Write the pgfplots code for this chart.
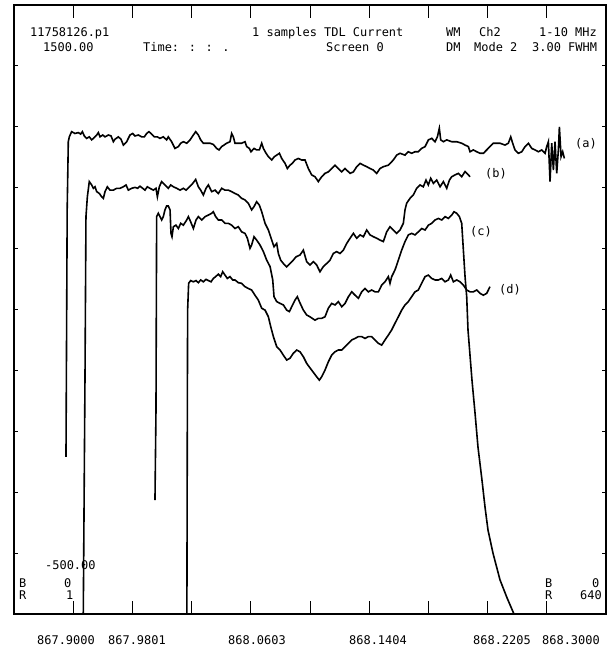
\documentclass[border=0pt]{standalone}
\usepackage{fontspec}
\setmainfont{DejaVu Sans Mono}
\usepackage{pgfplots}
\pgfplotsset{compat=1.18}

% four scans, x = channel (0..640), y = signal
\pgfplotstableread{
ch val
56.2 16
57.5 830
58.7 1051
59.8 1067
62.3 1084
65.9 1078
69.5 1081
72.1 1076
73.9 1084
76.0 1070
78.6 1062
81.4 1067
84.0 1057
86.8 1065
89.4 1073
91.2 1081
93.0 1067
95.9 1073
98.4 1067
102.0 1073
104.9 1070
107.4 1051
109.2 1059
112.8 1067
115.7 1059
118.2 1040
121.8 1051
125.4 1073
128.3 1078
130.8 1070
134.4 1073
138.0 1067
140.9 1067
143.4 1078
145.9 1084
148.8 1076
151.7 1067
154.9 1067
157.8 1062
161.4 1067
165.0 1057
166.8 1067
170.4 1051
174.0 1029
177.7 1035
180.2 1046
183.1 1051
186.7 1046
190.3 1057
193.9 1073
196.4 1084
199.3 1073
201.8 1057
204.7 1046
208.3 1046
211.9 1046
215.5 1042
219.1 1029
221.6 1024
224.5 1035
227.0 1040
229.9 1046
233.5 1051
235.3 1078
237.1 1067
238.9 1046
242.5 1046
246.1 1046
249.7 1051
251.6 1035
254.4 1029
256.2 1018
259.5 1029
262.3 1024
265.2 1024
267.8 1046
269.6 1029
272.5 1013
275.0 1002
278.6 991
281.5 1002
284.0 1007
286.9 1013
289.4 996
293.0 980
295.5 963
298.4 974
300.9 980
303.8 991
307.4 996
311.0 991
314.6 991
318.2 963
321.8 942
325.4 936
329.0 920
332.6 936
336.2 947
339.8 952
343.4 963
347.0 974
350.6 963
354.3 952
357.9 963
363.3 947
366.9 952
370.5 969
374.1 980
377.7 974
381.3 969
384.9 963
388.5 958
392.1 947
395.7 963
399.3 969
404.7 974
410.1 991
413.7 1007
417.3 1013
422.7 1007
426.3 1018
429.9 1013
433.5 1018
437.1 1018
440.7 1029
444.4 1035
448.0 1057
451.6 1062
455.2 1051
457.7 1067
459.8 1095
461.3 1057
464.2 1051
467.8 1057
473.2 1051
478.6 1051
484.0 1046
487.6 1040
491.2 1035
493.0 1018
496.6 1024
500.2 1018
503.8 1013
507.4 1013
511.0 1024
514.6 1035
518.2 1046
521.8 1046
525.4 1046
530.8 1040
534.4 1046
537.0 1067
539.1 1046
541.6 1024
545.3 1013
548.9 1018
552.5 1035
556.1 1046
559.7 1029
563.3 1024
566.9 1018
570.5 1024
574.1 1013
575.9 1035
577.7 1051
579.5 920
581.3 1046
583.1 958
584.9 1051
586.7 947
588.5 1024
589.6 1100
591.4 1002
593.2 1018
595.0 996
}\traceA

\pgfplotstableread{
ch val
74.9 -500
76.8 300
77.8 805
79.3 870
81.4 920
84.0 909
85.8 898
87.6 903
89.4 887
92.3 881
94.8 870
96.6 865
98.4 887
100.9 903
103.8 892
107.4 892
111.0 898
114.6 898
118.2 903
121.1 909
123.6 892
127.2 898
130.8 901
133.7 898
136.2 905
139.1 898
141.6 892
144.1 903
147.0 898
150.6 892
153.5 898
155.0 870
157.1 903
159.6 920
163.2 909
166.8 898
169.4 909
172.3 903
175.9 898
179.5 892
183.1 898
186.0 892
189.6 903
193.2 914
196.4 927
199.3 903
201.8 892
204.7 876
207.6 898
210.1 909
213.7 887
217.3 892
220.9 881
224.5 898
228.1 892
231.7 892
235.3 887
238.9 881
242.5 876
246.1 865
249.7 860
253.3 849
256.9 827
259.5 838
262.3 854
265.2 843
267.8 821
271.4 783
275.0 761
278.6 728
281.1 706
284.0 717
285.8 684
288.3 662
291.2 651
294.8 640
298.4 651
301.9 662
304.9 673
309.2 679
312.8 695
316.4 657
320.0 646
323.6 657
327.2 646
330.8 624
334.4 641
338.0 651
341.6 662
345.2 684
348.8 690
352.4 684
356.1 695
359.7 717
363.3 734
366.9 750
370.5 734
374.1 745
377.7 739
381.3 761
384.9 745
388.5 739
392.1 734
395.7 728
399.3 723
402.9 755
406.5 772
410.1 761
413.7 750
417.3 761
420.9 783
422.7 827
424.5 849
428.1 865
431.7 876
435.3 898
438.9 909
442.5 903
445.4 925
447.9 909
450.5 931
453.4 914
457.0 925
460.6 903
464.2 920
467.8 898
470.7 925
473.2 936
476.8 942
480.4 947
484.0 936
487.6 953
491.2 942
493.0 936
}\traceB

\pgfplotstableread{
ch val
152.4 -126
153.5 170
154.2 805
156.0 816
157.8 805
159.6 794
161.4 805
163.2 827
165.0 840
166.8 840
168.7 827
169.7 750
170.8 739
172.3 772
175.1 777
177.7 766
180.2 783
183.1 777
186.7 794
188.5 805
191.0 788
193.9 766
196.8 794
199.3 805
202.9 794
206.5 805
210.1 810
213.7 816
215.5 821
218.0 805
220.9 794
224.5 794
228.1 783
231.7 783
235.3 777
238.9 766
242.5 772
246.1 755
249.7 750
252.3 734
255.1 701
256.9 712
259.5 739
262.3 728
265.9 712
269.6 690
273.2 662
276.8 641
279.7 597
281.1 542
284.0 526
287.6 520
291.2 515
294.8 498
297.7 493
300.2 509
303.8 531
306.3 542
308.5 526
312.8 498
316.4 482
320.0 476
325.4 465
329.0 471
332.6 471
336.2 476
339.8 504
343.4 520
347.0 515
350.6 526
354.3 509
357.9 520
361.5 542
365.1 558
368.7 547
372.3 537
375.9 558
379.5 569
383.1 558
386.7 564
390.3 558
393.9 558
397.5 580
401.1 591
404.7 608
406.5 586
408.3 608
411.9 630
415.5 662
419.1 695
422.7 723
426.3 745
429.9 750
433.5 745
437.1 755
440.7 766
444.4 761
448.0 777
451.6 783
455.2 794
458.8 799
462.4 794
466.0 805
469.6 799
473.2 810
475.7 821
478.6 816
481.5 805
484.0 783
485.8 695
487.6 608
489.4 542
490.8 433
495.1 268
498.4 160
501.6 48
505.9 -60
509.2 -149
512.4 -224
517.8 -300
525.4 -388
533.0 -447
540.5 -500
}\traceC

\pgfplotstableread{
ch val
186.9 -500
187.4 170
187.7 498
188.8 586
191.0 595
193.9 591
196.8 595
199.3 588
201.8 597
204.7 591
207.6 599
210.1 595
213.0 591
215.5 602
218.0 608
220.9 616
223.4 608
225.6 624
228.1 613
230.6 602
233.5 608
236.4 597
238.9 597
242.5 588
246.1 586
249.7 575
253.3 569
256.9 564
260.5 547
264.1 531
267.8 504
271.4 498
275.0 476
277.5 444
280.4 411
284.0 378
287.6 367
291.2 350
294.8 334
298.4 340
301.9 356
305.6 367
309.2 361
312.8 345
316.4 323
321.8 301
327.2 279
330.1 268
332.6 279
336.2 301
339.8 328
343.4 350
347.0 361
350.6 367
354.3 367
357.9 378
361.5 389
365.1 400
368.7 405
372.3 411
375.9 411
379.5 405
383.1 411
386.7 411
390.3 400
393.9 389
397.5 383
401.1 400
404.7 416
408.3 433
411.9 455
415.5 476
419.1 498
422.7 515
426.3 526
429.9 542
433.5 558
437.1 564
440.7 586
444.4 608
448.0 613
451.6 602
455.2 597
458.8 597
462.4 602
466.0 591
469.6 597
472.1 613
475.0 591
478.6 597
482.2 591
485.8 580
489.4 564
493.0 558
496.6 558
500.2 564
503.8 553
507.4 547
511.0 553
514.6 575
}\traceD

\begin{document}
\begin{tikzpicture}
\begin{axis}[name=frame,
  scale only axis, width=592bp, height=609bp,
  xmin=0, xmax=640, ymin=-500, ymax=1500,
  axis line style={line width=1.2bp},
  tick align=inside, major tick length=13bp,
  tick style={line width=0.9bp, black},
  xtick={64,128,...,576}, xticklabels={},
  ytick=\empty,
  extra y ticks={-300,-100,...,1300}, extra y tick labels={},
  extra y tick style={major tick length=4bp},
  clip=false]
\addplot[black, line width=1.6bp] table[x=ch, y=val] {\traceA};
\addplot[black, line width=1.6bp] table[x=ch, y=val] {\traceB};
\addplot[black, line width=1.6bp] table[x=ch, y=val] {\traceC};
\addplot[black, line width=1.6bp] table[x=ch, y=val] {\traceD};
\end{axis}

% texts, placed in picture pixels (origin at the top left corner)
\begin{scope}[shift={(frame.north west)}, xshift=-14bp, yshift=5bp, x=1bp, y=-1bp,
  every node/.style={font=\fontsize{12}{12}\selectfont, inner sep=0pt, anchor=base west}]
\node at (30,36.5) {11758126.p1};
\node at (43,51.5) {1500.00};
\node at (143,51.5) {Time: : : .};
\node at (252,36.5) {1 samples TDL Current};
\node at (326,51.5) {Screen 0};
\node at (446,36.5) {WM};
\node at (446,51.5) {DM};
\node at (479,36.5) {Ch2};
\node at (474,51.5) {Mode 2};
\node at (539,36.5) {1-10 MHz};
\node at (532,51.5) {3.00 FWHM};
\node at (575,147.5) {(a)};
\node at (485,177.5) {(b)};
\node at (470,235.5) {(c)};
\node at (499,293.5) {(d)};
\node at (45,569.5) {-500.00};
\node at (19,587.5) {B};
\node at (64,587.5) {0};
\node at (19,599.5) {R};
\node at (66,599.5) {1};
\node at (545,587.5) {B};
\node at (592,587.5) {0};
\node at (545,599.5) {R};
\node at (580,599.5) {640};
\node at (37,644.5) {867.9000};
\node at (108,644.5) {867.9801};
\node at (228,644.5) {868.0603};
\node at (349,644.5) {868.1404};
\node at (473,644.5) {868.2205};
\node at (542,644.5) {868.3000};
\pgfresetboundingbox
\path[use as bounding box] (0,0) rectangle (608,652);
\end{scope}
\end{tikzpicture}
\end{document}
